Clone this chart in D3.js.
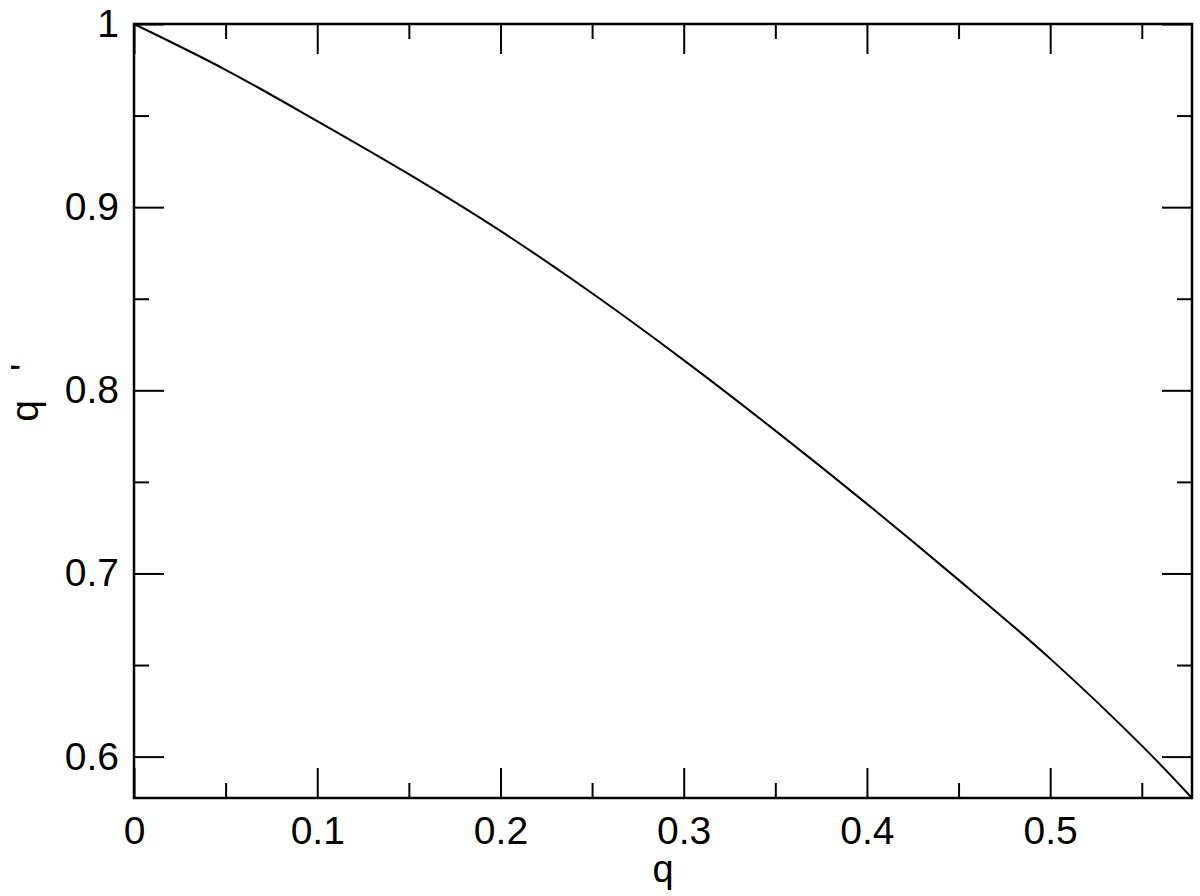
<!DOCTYPE html>
<html>
<head>
<meta charset="utf-8">
<script src="https://cdn.jsdelivr.net/npm/d3@7"></script>
<style>
  html, body { margin: 0; padding: 0; background: #fff; }
  svg { display: block; }
  text { font-family: "Liberation Sans", Arial, Helvetica, sans-serif; fill: #000; }
</style>
</head>
<body>
<svg id="chart" width="1200" height="896"></svg>
<script>
// ---- data ----
const qValues      = [0, 0.05, 0.1, 0.15, 0.2, 0.25, 0.3, 0.35, 0.4, 0.45, 0.5, 0.55, 0.5774];
const qPrimeValues = [1, 0.975, 0.947, 0.918, 0.887, 0.853, 0.8165, 0.778, 0.738, 0.6965, 0.6535, 0.606, 0.5774];
const xMajorTicks  = [0, 0.1, 0.2, 0.3, 0.4, 0.5];
const xMinorTicks  = [0.05, 0.15, 0.25, 0.35, 0.45, 0.55];
const yMajorTicks  = [0.6, 0.7, 0.8, 0.9, 1];
const yMinorTicks  = [0.65, 0.75, 0.85, 0.95];
const xDomain      = [0, 0.5774];
const yDomain      = [0.5774, 1];
const xTitle = "q";
const yTitle = "q";
const yTitlePrime = "'";

// ---- layout ----
const svg = d3.select("#chart");
const L = 134, R = 1192, T = 24, B = 798;
const x = d3.scaleLinear().domain(xDomain).range([L, R]);
const y = d3.scaleLinear().domain(yDomain).range([B, T]);
const MAJ = 30, MIN = 15, FS = 39;

function styleAxis(g) {
  g.select(".domain").remove();
  g.selectAll(".tick line").attr("stroke", "#000").attr("stroke-width", 2);
  g.selectAll(".tick text").attr("font-size", FS).attr("font-family", '"Liberation Sans", Arial, Helvetica, sans-serif').attr("fill", "#000");
}
const fmt = d => String(d);

// bottom
svg.append("g").attr("transform", `translate(0,${B})`)
  .call(d3.axisBottom(x).tickValues(xMajorTicks).tickSize(-MAJ).tickPadding(18).tickFormat(fmt)).call(styleAxis);
svg.append("g").attr("transform", `translate(0,${B})`)
  .call(d3.axisBottom(x).tickValues(xMinorTicks).tickSize(-MIN).tickFormat("")).call(styleAxis);
// top
svg.append("g").attr("transform", `translate(0,${T})`)
  .call(d3.axisTop(x).tickValues(xMajorTicks).tickSize(-MAJ).tickFormat("")).call(styleAxis);
svg.append("g").attr("transform", `translate(0,${T})`)
  .call(d3.axisTop(x).tickValues(xMinorTicks).tickSize(-MIN).tickFormat("")).call(styleAxis);
// left
svg.append("g").attr("transform", `translate(${L},0)`)
  .call(d3.axisLeft(y).tickValues(yMajorTicks).tickSize(-MAJ).tickPadding(15).tickFormat(fmt)).call(styleAxis);
svg.append("g").attr("transform", `translate(${L},0)`)
  .call(d3.axisLeft(y).tickValues(yMinorTicks).tickSize(-MIN).tickFormat("")).call(styleAxis);
// right
svg.append("g").attr("transform", `translate(${R},0)`)
  .call(d3.axisRight(y).tickValues(yMajorTicks).tickSize(-MAJ).tickFormat("")).call(styleAxis);
svg.append("g").attr("transform", `translate(${R},0)`)
  .call(d3.axisRight(y).tickValues(yMinorTicks).tickSize(-MIN).tickFormat("")).call(styleAxis);

// frame
svg.append("rect").attr("x", L).attr("y", T).attr("width", R - L).attr("height", B - T)
  .attr("fill", "none").attr("stroke", "#000").attr("stroke-width", 2.5);

// curve
const pts = qValues.map((q, i) => [q, qPrimeValues[i]]);
svg.append("path").datum(pts)
  .attr("fill", "none").attr("stroke", "#000").attr("stroke-width", 2)
  .attr("d", d3.line().x(d => x(d[0])).y(d => y(d[1])).curve(d3.curveCatmullRom));

// axis titles
svg.append("text").attr("x", (L + R) / 2).attr("y", 882).attr("text-anchor", "middle")
  .attr("font-size", FS - 1).text(xTitle);
svg.append("text").attr("transform", `translate(38,${(T + B) / 2}) rotate(-90)`)
  .attr("text-anchor", "middle").attr("font-size", FS).text(yTitle);
svg.append("text").attr("transform", `translate(38,${(T + B) / 2 - 40}) rotate(-90)`)
  .attr("text-anchor", "start").attr("font-size", FS).text(yTitlePrime);
</script>
</body>
</html>
